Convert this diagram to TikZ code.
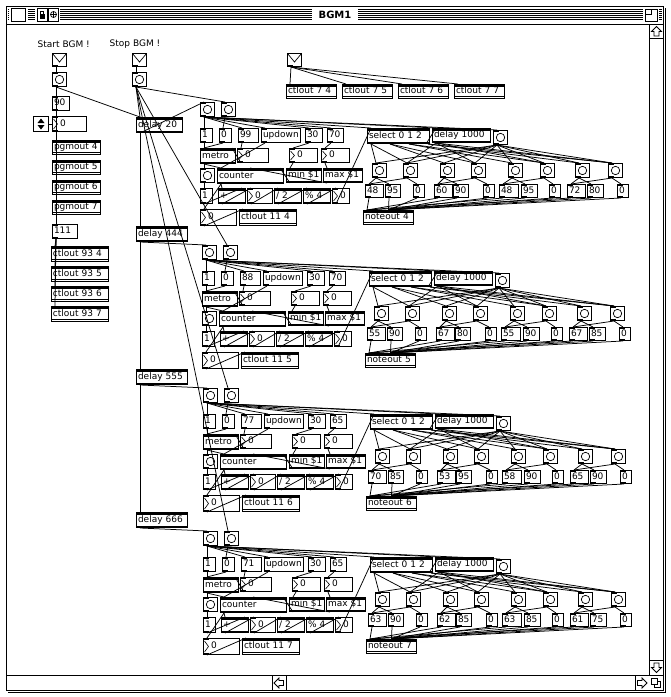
\documentclass[tikz,border=0pt]{standalone}
\usepackage{fontspec}
\setmainfont{DejaVu Sans}

\begin{document}
\begin{tikzpicture}[x=1pt, y=-1pt, line width=0.75pt,
    font=\fontsize{9}{10}\selectfont,
    box/.style={draw, line width=1pt, fill=white, anchor=north west,
      inner sep=0pt, minimum height=14pt, text width=#1pt,
      text height=6.4pt, text depth=1.6pt, align=left,
      execute at begin node={\hspace*{1.5pt}}},
    msg/.style={box=#1, path picture={
      \fill[black] (path picture bounding box.north west) rectangle ++(5pt,-1.5pt);
      \fill[black] (path picture bounding box.south west) rectangle ++(5pt,1.5pt);}},
    num/.style={box=#1, execute at begin node={\hspace*{6pt}}, path picture={
      \draw[black, line width=0.6pt] ([shift={(1pt,-2.5pt)}]path picture bounding box.north west)
        -- ([xshift=5pt]path picture bounding box.west)
        -- ([shift={(1pt,2.5pt)}]path picture bounding box.south west);
      \fill[black] (path picture bounding box.north west) rectangle ++(5pt,-1.5pt);
      \fill[black] (path picture bounding box.south west) rectangle ++(5pt,1.5pt);}},
    obj/.style={box=#1, path picture={
      \fill[black] (path picture bounding box.north west) rectangle ([yshift=-2pt]path picture bounding box.north east);
      \fill[black] (path picture bounding box.south west) rectangle ([yshift=2pt]path picture bounding box.south east);}},
    out/.style={box=#1, path picture={
      \fill[black] (path picture bounding box.north west) rectangle ([yshift=-2pt]path picture bounding box.north east);
      \draw[black, line width=0.6pt] ([yshift=2pt]path picture bounding box.south west) -- ([yshift=2pt]path picture bounding box.south east);}},
    bang/.style={draw, line width=1pt, fill=white, anchor=north west,
      minimum size=14pt, inner sep=0pt, path picture={
      \draw[black, line width=0.7pt] (path picture bounding box.center) circle (4.2pt);
      \fill[black] (path picture bounding box.north west) rectangle ++(5pt,-1.5pt);
      \fill[black] (path picture bounding box.south west) rectangle ++(5pt,1.5pt);}},
    env/.style={draw, line width=1pt, fill=white, anchor=north west,
      minimum width=14pt, minimum height=13pt, inner sep=0pt, path picture={
      \draw[black, line width=0.7pt] (path picture bounding box.north west)
        -- ([yshift=-2pt]path picture bounding box.center)
        -- (path picture bounding box.north east);
      \fill[black] (path picture bounding box.south west) rectangle ++(5pt,1.5pt);}},
    incd/.style={draw, line width=1pt, fill=white, anchor=north west,
      minimum size=15pt, inner sep=0pt, path picture={
      \fill[black] ([yshift=5.5pt]path picture bounding box.center) -- ([shift={(-3.5pt,1pt)}]path picture bounding box.center) -- ([shift={(3.5pt,1pt)}]path picture bounding box.center) -- cycle;
      \fill[black] ([yshift=-5.5pt]path picture bounding box.center) -- ([shift={(-3.5pt,-1pt)}]path picture bounding box.center) -- ([shift={(3.5pt,-1pt)}]path picture bounding box.center) -- cycle;}}]
\useasboundingbox (0,0) rectangle (671,697);

% window frame, title bar
\draw[line width=1pt] (6,6) rectangle (663.5,690.5);
\draw[line width=1pt] (665.5,8) -- (665.5,692.5) -- (8,692.5);
\draw[line width=1pt] (6,24) -- (663.5,24);
\foreach \y in {9,11,...,19}
  \draw[line width=0.6pt] (8,\y) -- (661.5,\y);
\fill[white] (9,7) rectangle (28,22);
\draw[line width=1pt] (11,8) rectangle (25,21);
\fill[white] (35,7) rectangle (60,22);
\draw[line width=1pt] (37,8) rectangle (47,21);
\fill (39.5,14) rectangle (44.5,19);
\draw (40.5,14) -- (40.5,11) -- (43.5,11) -- (43.5,14);
\draw[line width=1pt] (48.5,8) rectangle (58.5,21);
\draw (53.5,14.5) circle (3pt);
\draw (50.5,14.5) -- (56.5,14.5) (53.5,11.5) -- (53.5,17.5);
\node[fill=white, inner xsep=7pt, inner ysep=2pt, font=\bfseries\fontsize{10}{12}\selectfont] (title) at (335,15) {BGM1};
\fill[white] (643,7) rectangle (659,22);
\draw[line width=1pt] (645,9) rectangle (657,21);
\draw (645,14) -- (651,14) -- (651,9);

% scroll bars
\draw[line width=1pt] (649,24) -- (649,675);
\draw[line width=1pt] (649,38.5) -- (663.5,38.5);
\draw[line width=1pt] (649,660) -- (663.5,660);
\draw[line width=1pt] (6,675) -- (663.5,675);
\draw[line width=1pt] (272,675) -- (272,690.5) (286,675) -- (286,690.5);
\draw[line width=1pt] (635,675) -- (635,690.5);
\draw[shift={(656.5,31.5)}] (0,-5) -- (5,0) -- (2.5,0) -- (2.5,4.5) -- (-2.5,4.5) -- (-2.5,0) -- (-5,0) -- cycle;
\draw[shift={(656.5,667.5)}] (0,5) -- (5,0) -- (2.5,0) -- (2.5,-4.5) -- (-2.5,-4.5) -- (-2.5,0) -- (-5,0) -- cycle;
\draw[shift={(279,683)}] (-5,0) -- (0,-5) -- (0,-2.5) -- (4.5,-2.5) -- (4.5,2.5) -- (0,2.5) -- (0,5) -- cycle;
\draw[shift={(642,683)}] (5,0) -- (0,-5) -- (0,-2.5) -- (-4.5,-2.5) -- (-4.5,2.5) -- (0,2.5) -- (0,5) -- cycle;
\draw[fill=white] (654,681) rectangle (660.5,687.5);
\draw[fill=white] (651.5,678) rectangle (657.5,684);

% left column
\node[anchor=west] (tstart) at (34,44) {Start BGM !};
\node[anchor=west] (tstop) at (106,44) {Stop BGM !};
\node[env] (ea) at (52,53) {};
\node[bang] (ba) at (52,72) {};
\node[msg=17] (m90) at (52,96) {90};
\node[incd] (inc) at (33,116) {};
\node[num=34, minimum height=15pt] (nl) at (52,116) {0};
\foreach \c [count=\i from 0] in {4,5,6,7}
  \node[out=48] (pg\c) at (52,140+20*\i) {pgmout \c};
\node[msg=25] (m111) at (52,224) {111};
\foreach \c [count=\i from 0] in {4,5,6,7}
  \node[out=57, minimum height=15pt] (ct\c) at (51,246+20*\i) {ctlout 93 \c};
\node[env] (eb) at (132,53) {};
\node[bang] (bb) at (132,72) {};
\node[obj=46, minimum height=15pt] (dl20) at (136,117) {delay 20};
\node[obj=51, minimum height=15pt] (dl444) at (136,226) {delay 444};
\node[obj=51, minimum height=15pt] (dl555) at (136,369) {delay 555};
\node[obj=51, minimum height=15pt] (dl666) at (136,512) {delay 666};
\node[env] (ec) at (287,53) {};
\foreach \c/\x in {4/286,5/342,6/398,7/454}
  \node[out=50] (cv\c) at (\x,84) {ctlout 7 \c};

% the four sequencer blocks
\foreach \k/\dx/\tempo/\vel/\notes in {
    1/0/99/70/{48,95,0,60,90,0,48,95,0,72,80,0},
    2/2/88/70/{55,90,0,67,80,0,55,90,0,67,85,0},
    3/3/77/65/{70,85,0,53,95,0,58,90,0,65,90,0},
    4/3/71/65/{63,90,0,62,85,0,63,85,0,61,75,0}} {
  \pgfmathsetmacro\ox{200+\dx}
  \pgfmathsetmacro\oy{102+143*(\k-1)}
  \pgfmathtruncatemacro\ch{\k+3}
  \begin{scope}[shift={(\ox,\oy)}]
    \node[bang] (bl\k) at (0,0) {};
    \node[bang] (br\k) at (21,0) {};
    \node[msg=12] (one\k) at (0,26) {1};
    \node[msg=12] (zero\k) at (19,26) {0};
    \node[msg=20] (tmp\k) at (38,26) {\tempo};
    \node[msg=39] (ud\k) at (61,26) {updown};
    \node[msg=17] (lo\k) at (105,26) {30};
    \node[msg=16] (hi\k) at (127,26) {\vel};
    \node[obj=35, minimum height=15pt] (metro\k) at (0,46) {metro};
    \node[num=31] (na\k) at (37,46) {0};
    \node[num=28] (nb\k) at (89,46) {0};
    \node[num=28] (nc\k) at (121,46) {0};
    \node[bang] (bc\k) at (0,66) {};
    \node[obj=66, minimum height=15pt] (count\k) at (17,66) {counter};
    \node[obj=35] (min\k) at (86,66) {min \$1};
    \node[obj=39] (max\k) at (123,66) {max \$1};
    \node[msg=12, minimum height=15pt] (onb\k) at (0,86) {1};
    \node[obj=27, minimum height=15pt] (plus\k) at (18,86) {+};
    \node[num=25, minimum height=15pt] (nd\k) at (47,86) {0};
    \node[obj=27, minimum height=15pt] (div\k) at (74,86) {/ 2};
    \node[obj=27, minimum height=15pt] (mod\k) at (103,86) {\% 4};
    \node[num=17, minimum height=15pt] (ne\k) at (132,86) {0};
    \node[num=36, minimum height=16pt] (nf\k) at (0,107) {0};
    \node[out=57, minimum height=16pt] (ctl\k) at (39,107) {ctlout 11 \ch};
    \node[obj=62, minimum height=15pt] (sel\k) at (167,26) {select 0 1 2};
    \node[obj=58] (dly\k) at (232,26) {delay 1000};
    \node[bang] (bd\k) at (293,28) {};
    \foreach \x [count=\i] in {172,203,240,271,308,340,375,408}
      \node[bang] (b\i-\k) at (\x,61) {};
    \foreach \m [count=\i] in \notes {
      \pgfmathsetmacro\mx{{165,185,213,234,253,283,299,321,349,367,387,417}[\i-1]}
      \pgfmathsetmacro\mw{{18,15,11,18,15,11,19,16,11,18,16,11}[\i-1]}
      \node[msg=\mw, minimum height=13pt] (n\i-\k) at (\mx,82) {\m};
    }
    \node[out=50] (nout\k) at (163,108) {noteout \ch};
  \end{scope}

  \foreach \p/\q in {bl/one, br/zero, zero/metro, bl/tmp, bl/ud, bl/lo, bl/hi,
      bl/sel, bl/dly, bl/bd, one/metro, tmp/na, lo/nb, hi/nc, nb/min, nc/max,
      metro/bc, metro/count, ud/count, bc/onb, count/plus, count/nf, plus/nd,
      nd/div, div/mod, mod/ne, ne/sel, nf/ctl}
    \draw ([xshift=4pt]\p\k.south west) -- ([xshift=4pt]\q\k.north west);
  \draw ([xshift=4pt]min\k.south west) -- ([xshift=-4pt]count\k.north east);
  \draw ([xshift=4pt]max\k.south west) -- ([xshift=33pt]count\k.north west);
  \draw ([xshift=4pt]onb\k.south west) -- ([xshift=-4pt]plus\k.north east);
  \draw ([xshift=4pt]na\k.south west) -- ([xshift=-4pt]metro\k.north east);
  \draw ([xshift=-4pt]sel\k.south east) -- ([xshift=4pt]dly\k.north west);
  \foreach \j in {1,...,8} {
    \pgfmathsetmacro\sx{(ceil(\j/2)-1)*19+4}
    \draw ([xshift=\sx pt]sel\k.south west) -- ([xshift=4pt]b\j-\k.north west);
    \draw ([xshift=4pt]bd\k.south west) -- ([xshift=4pt]b\j-\k.north west);
  }
  \foreach \j in {2,4,6,8}
    \draw ([xshift=4pt]dly\k.south west) -- ([xshift=4pt]b\j-\k.north west);
  \foreach \g in {1,...,4} {
    \pgfmathtruncatemacro\bon{2*\g-1}
    \pgfmathtruncatemacro\boff{2*\g}
    \pgfmathtruncatemacro\mn{3*\g-2}
    \pgfmathtruncatemacro\mv{3*\g-1}
    \pgfmathtruncatemacro\mz{3*\g}
    \draw ([xshift=4pt]b\bon-\k.south west) -- ([xshift=4pt]n\mn-\k.north west);
    \draw ([xshift=4pt]b\bon-\k.south west) -- ([xshift=4pt]n\mv-\k.north west);
    \draw ([xshift=4pt]b\boff-\k.south west) -- ([xshift=4pt]n\mn-\k.north west);
    \draw ([xshift=4pt]b\boff-\k.south west) -- ([xshift=4pt]n\mz-\k.north west);
    \draw ([xshift=4pt]n\mn-\k.south west) -- ([xshift=4pt]nout\k.north west);
    \draw ([xshift=4pt]n\mv-\k.south west) -- (nout\k.north);
    \draw ([xshift=4pt]n\mz-\k.south west) -- (nout\k.north);
  }
}

% wires of the left column and the start / stop chain
\foreach \p/\q in {ea/ba, ba/m90, ba/m111, m90/nl, nl/pg4, nl/pg5, nl/pg6, nl/pg7,
    m111/ct4, m111/ct5, m111/ct6, m111/ct7, ba/dl20, eb/bb, bb/dl20,
    bb/br1, bb/br2, bb/br3, bb/br4, dl20/bl1, dl20/dl444, dl444/bl2,
    dl444/dl555, dl555/bl3, dl555/dl666, dl666/bl4,
    ec/cv4, ec/cv5, ec/cv6, ec/cv7}
  \draw ([xshift=4pt]\p.south west) -- ([xshift=4pt]\q.north west);
\draw (inc.east) -- (nl.west);
\end{tikzpicture}
\end{document}
